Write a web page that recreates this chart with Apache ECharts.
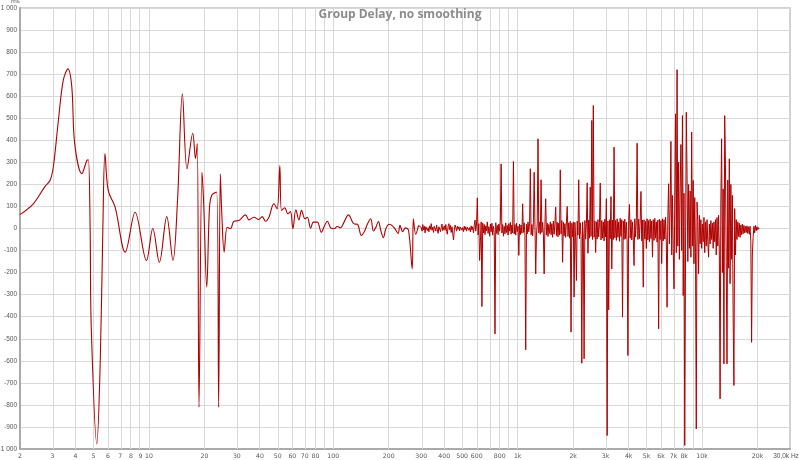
<!DOCTYPE html>
<html>
<head>
<meta charset="utf-8">
<script src="https://cdn.jsdelivr.net/npm/echarts@6/dist/echarts.min.js"></script>
<style>html,body{margin:0;padding:0;background:#fff}#c{width:800px;height:460px}</style>
</head>
<body>
<div id="c"></div>
<script>
// Low-frequency part: explicit frequency (Hz) / group delay (ms)
const lfFreq = [2,2.36,2.73,2.91,3.03,3.23,3.43,3.64,3.82,3.96,4.33,4.61,4.70,4.80,4.87,5.22,5.45,5.63,5.78,6.02,6.56,7.44,8.42,9.7,10.5,11.4,12.5,13.5,14.3,15.2,16.1,17.3,17.9,18.3,18.7,19.4,19.8,20.6,21.3,21.9,23.3,23.9,24.4,24.9,25.6,26.6,27.7,28.9,30.7,33.4,34.9,37.1,39.4,41.2,42.9,44.8,47.6,49.6,51.3,52.4,54.6,56.7,58.6,60.4,62.7,65.1,67.3,70.2,72.3,75.4,78,82,86.1,89.8,92.9,96.8,100.9,105.2,109.7,114.4,120.8,129.6,135.2,142.1,148,153,159.7,165,170,175.8,181,187,192.8,200.7,213.8,224.6,230,238,246,256,268,272,280,290];
const lfDelay = [63,112,190,218,278,490,671,724,641,385,249,308,312,6,-448,-977,-599,6,340,172,97,-107,74,-145,0,-153,54,-145,127,611,271,432,317,385,-810,255,127,-266,89,150,165,-810,248,51,-107,6,-1,33,36,62,39,51,41,54,33,51,112,89,286,82,94,67,77,-1,85,39,82,44,51,1,29,29,-17,14,33,3,-1,9,3,29,62,21,19,-32,-11,19,44,-11,4,32,-8,-42,-1,19,4,-23,14,-14,3,-8,-183,44,-27,14];

// High-frequency part: measurement grid starting at 300 Hz, 240 points per decade
const hfStartHz = 300;
const hfPointsPerDecade = 240;
const hfDelay = [
5,-12,18,-6,10,-20,8,14,-10,4,
-15,12,-4,22,-8,6,-18,10,2,-12,
16,-6,-22,8,12,-14,4,20,-10,-4,
12,-8,18,-14,-26,10,22,-6,14,-18,
8,-20,-52,-10,16,4,-12,10,-4,8,
-10,6,12,-8,4,-14,10,-6,8,-12,
6,10,-8,4,-16,12,-6,8,-20,14,
38,-12,20,139,-30,22,-145,-60,30,-354,
25,-20,18,-28,12,-10,30,-22,8,-35,
20,-15,24,-30,10,-18,-478,26,-22,14,
-28,20,-12,32,293,-20,18,-35,10,-24,
26,-18,14,-30,22,-12,28,-26,16,-20,
304,-25,18,-30,24,-14,10,-122,20,-28,
16,-22,112,-18,26,-30,-550,20,-24,30,
-15,22,271,-28,18,-34,26,255,20,-206,
-30,24,407,-20,30,-26,221,-18,28,-24,
-206,20,135,-30,24,-36,18,-22,30,-28,
22,-40,34,-26,20,97,-32,28,-38,24,
-30,266,-24,36,-153,28,-34,22,-40,30,
100,-36,26,-44,32,-470,24,-38,30,-311,
28,-42,-236,34,-30,221,-46,26,-36,-611,
30,-40,-591,36,-48,24,207,-112,38,-44,
188,-36,490,-50,558,-40,34,-109,30,-48,
40,-38,26,206,-52,36,-44,30,-56,42,
-38,135,-939,34,-369,40,-46,145,-183,38,
-50,369,-42,36,-54,44,-40,30,-58,46,
-36,40,-402,34,-50,42,-46,28,-60,-576,
36,109,-44,40,-52,30,-48,-168,44,-38,
36,387,-50,42,-46,34,168,-56,38,-266,
40,-48,32,-91,44,-52,36,-60,42,-46,
34,-130,40,-54,46,-44,30,-62,38,-455,
42,-50,36,-159,44,-56,40,-48,52,-60,
-357,58,203,-70,90,395,-120,150,-90,-274,
120,520,-110,720,-80,301,-140,180,381,-100,
512,-304,160,-984,-120,527,248,-150,200,-90,
170,-130,437,-80,218,-160,140,-110,-909,120,
30,-205,60,-70,40,-90,20,-60,50,-110,
30,-80,40,-60,-130,20,-70,36,-50,24,
-90,30,-60,40,-120,50,-80,60,-100,-773,
120,407,-200,180,-614,512,290,-150,-614,220,
-180,316,-250,200,-140,150,-400,-712,90,-120,
40,-50,30,-36,24,-40,16,-28,20,-24,
14,-20,10,-18,12,-22,8,-26,10,-60,
-516,-120,-40,10,-20,14,-10,8,-6,4,0
];

// Axis ticks
const xLabelFreqs = [2,3,4,5,6,7,8,9,10,20,30,40,50,60,70,80,100,200,300,400,500,600,800,1000,2000,3000,4000,5000,6000,7000,8000,10000,20000,30000];
const xMinHz = 2, xMaxHz = 30000;
const yMin = -1000, yMax = 1000, yStep = 100;
const titleText = 'Group Delay, no smoothing';

const L = Math.log10;
const lfData = lfFreq.map((f, i) => [L(f), lfDelay[i]]);
const hfData = [lfData[lfData.length - 1]].concat(hfDelay.map((v, i) => [L(hfStartHz) + i / hfPointsPerDecade, v]));

const gridFreqs = [];
for (let d = 1; d <= 10000; d *= 10) for (let m = 1; m <= 9; m++) {
  const f = m * d; if (f > xMinHz && f < xMaxHz) gridFreqs.push(f);
}

function fmtX(f) {
  if (f === 30000) return '{m|30,0k Hz}';
  if (f >= 1000) return (f / 1000) + 'k';
  return String(f);
}
function fmtY(v) {
  if (Math.abs(v) >= 1000) return (v < 0 ? '-' : '') + '1 000';
  return String(v);
}

const lineColor = '#b00000';
const chart = echarts.init(document.getElementById('c'), null, {renderer: 'canvas'});
chart.setOption({
  animation: false,
  backgroundColor: '#ffffff',
  title: {
    text: titleText, left: 'center', top: 4,
    textStyle: {fontFamily: 'Open Sans', fontSize: 12, fontWeight: 'bold', color: '#8c8c8c'}
  },
  grid: {left: 20, right: 10, top: 8, bottom: 11, show: true, borderColor: '#c4c4c4', borderWidth: 1.5,
         containLabel: false, outerBoundsMode: 'none'},
  xAxis: {
    type: 'value', min: L(xMinHz), max: L(xMaxHz),
    axisLine: {show: true, onZero: false, lineStyle: {color: '#aaaaaa', width: 2}},
    axisTick: {show: false},
    splitLine: {show: false},
    axisLabel: {
      customValues: xLabelFreqs.map(L),
      formatter: v => fmtX(Math.round(Math.pow(10, v))),
      fontFamily: 'DejaVu Sans', fontSize: 6.2, color: '#555', margin: 4,
      showMinLabel: true, showMaxLabel: true, hideOverlap: false,
      rich: {m: {fontFamily: 'Liberation Sans', fontSize: 6.5, color: '#555', padding: [0, 8, 0, 0]}}
    }
  },
  yAxis: {
    type: 'value', min: yMin, max: yMax, interval: yStep,
    name: 'ms', nameLocation: 'end', nameGap: 1,
    nameTextStyle: {fontFamily: 'DejaVu Sans', fontSize: 6, color: '#555', align: 'right', padding: [0, 0, 0, 0]},
    axisLine: {show: true, lineStyle: {color: '#aaaaaa', width: 2}},
    axisTick: {show: false},
    splitLine: {show: true, lineStyle: {color: '#d9d9d9', width: 1}},
    axisLabel: {formatter: fmtY, fontFamily: 'Liberation Sans', fontSize: 6.5, color: '#555', margin: 3}
  },
  series: [
    {
      type: 'line', data: [], silent: true,
      markLine: {
        silent: true, symbol: 'none', animation: false,
        label: {show: false},
        lineStyle: {color: '#d9d9d9', width: 1, type: 'solid'},
        data: gridFreqs.map(f => ({xAxis: L(f)}))
      }
    },
    {
      type: 'line', data: lfData, showSymbol: false, symbol: 'none',
      sampling: null, smooth: 0.35,
      lineStyle: {color: lineColor, width: 1.1},
      z: 5
    },
    {
      type: 'line', data: hfData, showSymbol: false, symbol: 'none',
      sampling: null, smooth: false,
      lineStyle: {color: lineColor, width: 1},
      z: 5
    }
  ]
});
</script>
</body>
</html>
